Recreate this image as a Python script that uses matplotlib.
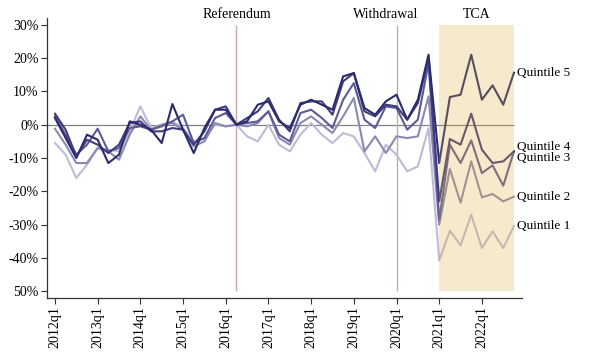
import numpy as np
import matplotlib
matplotlib.use('Agg')
import matplotlib.pyplot as plt

plt.rcParams['font.family'] = ['Liberation Serif', 'DejaVu Serif']

# quarterly series, 2012q1 .. 2022q4 (percent)
YEARS = list(range(2012, 2023))
Q5 = [2, -4, -10, -3, -4.5, -11.5, -9, 1, 0, -1.5, -5.5, 6.2, -1.5, -8.5, -1, 4.5,
      4.5, 0, 1, 6, 7, 1, -1, 6, 7.5, 6, 4.5, 14.5, 15.5, 5, 3, 7, 9, 1.5, 7.5, 21,
      -11.5, 8.3, 9, 21, 7.5, 11.8, 6, 15.6]
Q4 = [3.3, -1.5, -9.5, -4.5, -6, -8.5, -6, 0.5, 1, -2, -2, -1, -1.5, -6, -2, 4.5,
      5.5, 0, 2, 4, 8, 1.5, -2, 6.5, 7, 7, 3, 13, 15.5, 4, 2.5, 6, 5.5, 1.5, 6.5, 20,
      -23, -4.3, -6, 3.3, -7.5, -11.5, -11, -8]
Q3 = [2.5, -3, -9, -6, -1.2, -8, -7, -1, -0.5, -1.5, -0.5, 1, 3, -5.5, -4, 2,
      3.5, 0, 0.5, 1, 4, -3, -5, 3.5, 4.5, 2, -1, 7.5, 12.5, 1.5, -1, 5.5, 5, -1.5, 1.5, 18.5,
      -28.6, -6, -11.5, -4.7, -14.5, -12.2, -18.3, -8]
Q2 = [-1.2, -6, -11.5, -11.5, -7, -8, -10.5, -3, 2.5, -1.5, 0, 0.5, -1.5, -6.5, -5, 0.5,
      -0.5, 0, -0.5, 0.5, 4, -4, -6, 0.5, 2.5, 0, -2.5, 2.5, 8, -8, -3.5, -8.5, -3.5, -4, -3.5, 8.5,
      -30, -13.3, -23.4, -11, -21.8, -20.8, -23, -21.6]
Q1 = [-5.5, -9, -16, -12, -7, -7.5, -8, -2, 5.5, -1, 0, 1, -1, -5, -4, 0,
      -0.5, 0, -3.5, -5, 0, -6, -8, -3, 0.5, -3, -5.5, -2.5, -3.5, -8.5, -14, -6, -9, -14, -12.5, -1,
      -40.7, -31.8, -36.2, -27, -37, -32, -37, -30.4]

SERIES = [Q1, Q2, Q3, Q4, Q5]
NAMES = ['Quintile 1', 'Quintile 2', 'Quintile 3', 'Quintile 4', 'Quintile 5']
COLORS = ['#bdbbd6', '#8c88b3', '#5e5a93', '#3f3c7c', '#2b2b6e']
LABEL_Y = [-30.5, -21.7, -10.0, -6.6, 15.5]

EVENTS = [('Referendum', 17, 17), ('Withdrawal', 32, 31)]  # label, quarter idx, text x
TCA = (36, 43)
YTICKS = [30, 20, 10, 0, -10, -20, -30, -40, -50]
YTICKLABELS = ['30%', '20%', '10%', '0%', '-10%', '-20%', '-30%', '-40%', '50%']

x = np.arange(len(Q5))

fig = plt.figure(figsize=(6.02, 3.61), dpi=100)
ax = fig.add_axes([0.078, 0.1745, 0.789, 0.7755])

for s, c in zip(SERIES, COLORS):
    ax.plot(x, s, color=c, lw=1.5, zorder=3)

ax.hlines(0, -0.75, x[-1], color='#808080', lw=0.9, zorder=2)
for name, q, tx in EVENTS:
    ax.vlines(q, -50, 30, color='#c9a9a6', lw=1.0, zorder=2)
    ax.text(tx, 33.2, name, ha='center', va='center', fontsize=10, clip_on=False)

ax.fill_between(TCA, -50, 30, color='#dfaf37', alpha=0.25, lw=0, zorder=4)
ax.text(sum(TCA) / 2, 33.2, 'TCA', ha='center', va='center', fontsize=10, clip_on=False)

for name, ly in zip(NAMES, LABEL_Y):
    ax.text(x[-1] + 0.25, ly, name, ha='left', va='center', fontsize=9.5, clip_on=False)

ax.set_xlim(-0.75, 43.75)
ax.set_ylim(-52, 32)
ax.set_xticks([4 * (y - 2012) for y in YEARS])
ax.set_xticklabels([f'{y}q1' for y in YEARS], rotation=90, fontsize=10)
ax.set_yticks(YTICKS)
ax.set_yticklabels(YTICKLABELS, fontsize=10)
ax.tick_params(direction='out', length=4, width=0.8, color='#333333', pad=2)
for side in ['top', 'right']:
    ax.spines[side].set_visible(False)
for side in ['left', 'bottom']:
    ax.spines[side].set_color('#333333')
    ax.spines[side].set_linewidth(0.9)

plt.savefig('out.png', dpi=100, facecolor='white')
plt.close()
